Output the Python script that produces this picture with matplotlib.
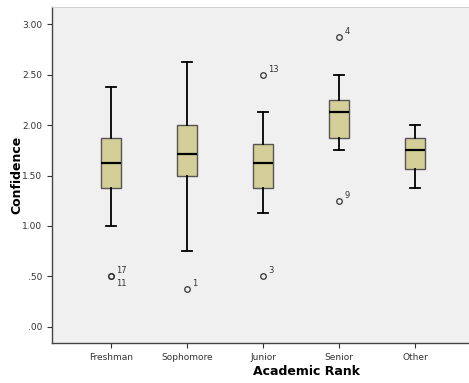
import matplotlib
matplotlib.use("Agg")
import matplotlib.pyplot as plt

categories = ["Freshman", "Sophomore", "Junior", "Senior", "Other"]
whislo = [1.0, 0.75, 1.125, 1.75, 1.375]
q1 = [1.375, 1.5, 1.375, 1.875, 1.5625]
med = [1.625, 1.714, 1.625, 2.125, 1.75]
q3 = [1.875, 2.0, 1.8125, 2.25, 1.875]
whishi = [2.375, 2.625, 2.125, 2.5, 2.0]
# outliers: (category index, value, case label)
outlier_cat = [0, 0, 1, 2, 2, 3, 3]
outlier_val = [0.5, 0.5, 0.375, 2.5, 0.5, 2.875, 1.25]
outlier_lab = ["17", "11", "1", "13", "3", "4", "9"]
yticks = [0.0, 0.5, 1.0, 1.5, 2.0, 2.5, 3.0]
ytick_labels = [".00", ".50", "1.00", "1.50", "2.00", "2.50", "3.00"]

fig = plt.figure(figsize=(4.69, 3.83), dpi=100)
fig.patch.set_facecolor("white")
ax = fig.add_axes([52/469, 40/383, 1 - 52/469, (343 - 7)/383])
ax.set_facecolor("#F0F0F0")

stats = []
for i in range(len(categories)):
    fl = [v for c, v in zip(outlier_cat, outlier_val) if c == i]
    stats.append(dict(med=med[i], q1=q1[i], q3=q3[i], whislo=whislo[i],
                      whishi=whishi[i], fliers=fl))

ax.bxp(stats, positions=range(len(categories)), widths=0.255,
       patch_artist=True, showfliers=True,
       boxprops=dict(facecolor="#D4CF98", edgecolor="#555555", linewidth=1.0),
       medianprops=dict(color="black", linewidth=1.6),
       whiskerprops=dict(color="black", linewidth=1.3),
       capprops=dict(color="black", linewidth=1.3),
       capwidths=0.12,
       flierprops=dict(marker="o", markersize=4, markerfacecolor="none",
                       markeredgecolor="#333333", markeredgewidth=0.9))

for c, v, lab in zip(outlier_cat, outlier_val, outlier_lab):
    dy = 4
    if lab == "11":
        dy = -5
    ax.annotate(lab, (c, v), xytext=(4, dy), textcoords="offset points",
                fontsize=6, color="#333333", va="center", ha="left")

ax.set_xlim(-0.776, 4.71)
ax.set_ylim(-0.16, 3.17)
ax.set_yticks(yticks)
ax.set_yticklabels(ytick_labels, fontsize=6.5, color="#333333")
ax.set_xticks(range(len(categories)))
ax.set_xticklabels(categories, fontsize=6.5, color="#333333")
ax.tick_params(axis="both", length=3.5, width=0.8, color="#333333")
ax.set_ylabel("Confidence", fontsize=9, fontweight="bold")
ax.set_xlabel("Academic Rank", fontsize=9, fontweight="bold")
ax.xaxis.set_label_coords((306 - 52) / 417, -22 / 336)
ax.yaxis.set_label_coords((23 - 52) / 417, (383 - 175 - 40) / 336)

for s in ["left", "bottom"]:
    ax.spines[s].set_color("#444444")
    ax.spines[s].set_linewidth(1.0)
for s in ["top", "right"]:
    ax.spines[s].set_color("#cccccc")
    ax.spines[s].set_linewidth(0.6)

fig.savefig("out.png", dpi=100)
